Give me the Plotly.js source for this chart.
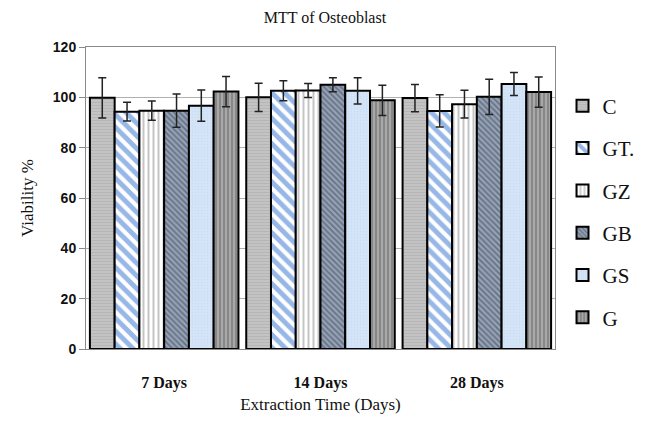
<!DOCTYPE html>
<html>
<head>
<meta charset="utf-8">
<script src="https://cdn.plot.ly/plotly-3.0.1.min.js"></script>
<style>html,body{margin:0;padding:0;background:#fff;}#chart{width:646px;height:423px;}</style>
</head>
<body>
<div id="chart"></div>
<script>
const categories = ["7 Days", "14 Days", "28 Days"];
const seriesNames = ["C", "GT.", "GZ", "GB", "GS", "G"];
const valC  = [99.8, 100.0, 99.7];
const valGT = [94.3, 102.6, 94.6];
const valGZ = [94.7, 102.7, 97.3];
const valGB = [94.7, 105.0, 100.2];
const valGS = [96.7, 102.6, 105.3];
const valG  = [102.3, 98.8, 102.1];
const errC  = [8.0, 5.6, 5.4];
const errGT = [3.7, 4.0, 6.4];
const errGZ = [3.8, 2.8, 5.5];
const errGB = [6.6, 2.8, 7.0];
const errGS = [6.2, 5.2, 4.6];
const errG  = [6.0, 6.0, 6.0];

const values = [valC, valGT, valGZ, valGB, valGS, valG];
const errors = [errC, errGT, errGZ, errGB, errGS, errG];
const styles = [
  {bg: "#c4c4c4", fg: "#a8a8a8", shape: "-", size: 3, sol: 0.4},
  {bg: "#ffffff", fg: "#2f6fd0", shape: "\\", size: 9, sol: 0.55},
  {bg: "#ffffff", fg: "#8a8a8a", shape: "|", size: 5, sol: 0.4},
  {bg: "#96a2b4", fg: "#36425a", shape: "\\", size: 4, sol: 0.45},
  {bg: "#d5e5f8", fg: "#c2d6ef", shape: ".", size: 3, sol: 0.3},
  {bg: "#a8a8a8", fg: "#4a4a4a", shape: "|", size: 4, sol: 0.35}
];

const traces = seriesNames.map((name, i) => ({
  type: "bar",
  name: name,
  x: categories,
  y: values[i],
  legendgroup: "g" + i,
  marker: {
    color: styles[i].bg,
    line: {color: "#000", width: 2},
    pattern: {shape: styles[i].shape, fgcolor: styles[i].fg, bgcolor: styles[i].bg, size: styles[i].size, solidity: styles[i].sol, fillmode: "overlay"}
  },
  error_y: {type: "data", array: errors[i], visible: true, color: "#222", thickness: 1.5, width: 4}
}));

const serif = "Liberation Serif, Times New Roman, serif";
const layout = {
  width: 646, height: 423,
  margin: {l: 86, r: 91, t: 47, b: 74, autoexpand: false},
  paper_bgcolor: "#fff", plot_bgcolor: "#fff",
  barmode: "group", bargap: 0.05, bargroupgap: 0,
  showlegend: true,
  title: {text: "MTT of Osteoblast", font: {family: serif, size: 16, color: "#111"}, x: 0.503, xanchor: "center", y: 0.96, yanchor: "middle"},
  xaxis: {
    title: {text: "Extraction Time (Days)", font: {family: serif, size: 17, color: "#111"}, standoff: 6},
    tickfont: {family: serif, size: 16, color: "#111", weight: "bold"},
    showline: true, linecolor: "#8a8a8a", linewidth: 1, mirror: true,
    ticks: "outside", ticklen: 19, tickcolor: "rgba(0,0,0,0)", showgrid: false
  },
  yaxis: {
    title: {text: "Viability %", font: {family: serif, size: 17, color: "#111"}, standoff: 14},
    range: [0, 120], dtick: 20, tick0: 0,
    tickfont: {family: "Liberation Sans, Arial, sans-serif", size: 14, color: "#111", weight: "bold"},
    showline: true, linecolor: "#8a8a8a", linewidth: 1, mirror: true,
    ticks: "outside", ticklen: 6, tickcolor: "#8a8a8a",
    showgrid: true, gridcolor: "#b0b0b0", gridwidth: 1, zeroline: false
  },
  legend: {
    x: 1.016, xanchor: "left", y: 0.872, yanchor: "top",
    font: {family: serif, size: 21, color: "#111"},
    tracegroupgap: 12, traceorder: "grouped",
    bgcolor: "rgba(0,0,0,0)", itemwidth: 30
  }
};

Plotly.newPlot("chart", traces, layout, {displayModeBar: false, staticPlot: true});
</script>
</body>
</html>
